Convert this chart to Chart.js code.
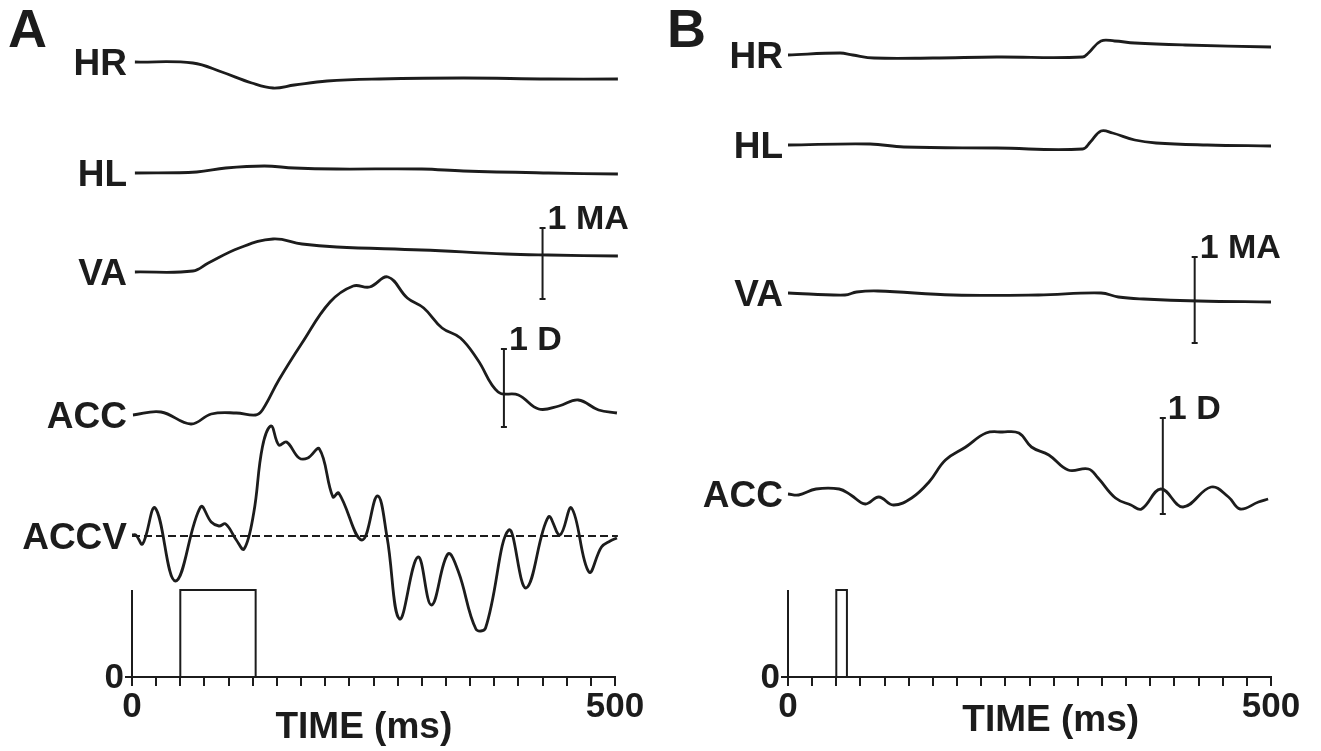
<!DOCTYPE html>
<html>
<head>
<meta charset="utf-8">
<script src="https://cdn.jsdelivr.net/npm/chart.js@4.4.1/dist/chart.umd.min.js"></script>
<style>
    html, body { margin: 0; padding: 0; background: #ffffff; }
    #wrap { position: relative; width: 1321px; height: 751px; background: #ffffff; }
    .panel { position: absolute; top: 0; height: 751px; }
</style>
</head>
<body>
<div id="wrap">
    <div class="panel" style="left:0; width:660px;"><canvas id="panelA"></canvas></div>
    <div class="panel" style="left:660px; width:661px;"><canvas id="panelB"></canvas></div>
</div>
<script>
// ---- panel A (time in ms, deflection in chart units, + = up) ----
const traceNamesA = ['HR', 'HL', 'VA', 'ACC', 'ACCV'];
const baselinesA = [615, 504, 405, 262, 141];

const hrTimeA = [3, 63, 93, 124, 146, 168, 202, 256, 343, 431, 503];
const hrValA  = [0, -1, -10, -21, -26, -23, -19, -17, -16, -17, -17];

const hlTimeA = [3, 67, 97, 137, 168, 212, 300, 343, 431, 503];
const hlValA  = [0, 1, 5, 7, 5, 4, 4, 2, 0, -1];

const vaTimeA = [3, 63, 79, 111, 146, 176, 212, 300, 387, 431, 503];
const vaValA  = [0, 1, 9, 24, 33, 28, 25, 22, 18, 17, 16];

const accTimeA = [1, 30, 61, 82, 108, 128, 135, 152, 176, 205, 229, 246, 265, 285, 302, 321, 340, 358, 379, 400, 421, 442, 462, 483, 502];
const accValA  = [0, 3, -9, 1, 2, 0, 5, 35, 72, 113, 129, 128, 138, 117, 107, 87, 77, 55, 23, 20, 6, 9, 15, 5, 2];

const accvTimeA = [0, 4, 11, 24, 45, 71, 82, 90, 97, 108, 116, 126, 135, 144, 152, 160, 173, 182, 194, 208, 214, 238, 254, 264, 277, 296, 310, 327, 338, 356, 366, 390, 408, 431, 443, 455, 473, 486, 495, 502];
const accvValA  = [1, 1, -8, 28, -45, 29, 14, 10, 12, -4, -13, 23, 89, 110, 91, 94, 78, 78, 87, 39, 43, -4, 40, -1, -83, -21, -69, -18, -36, -93, -92, 6, -52, 19, 1, 28, -36, -11, -5, -2];

const stimTimeA = [50, 50, 128, 128];
const stimValA  = [0, 87, 87, 0];

// scale bars: [label, time, from, to]
const barsA = [['1 MA', 425, 378, 449], ['1 D', 385, 250, 328]];

// ---- panel B ----
const traceNamesB = ['HR', 'HL', 'VA', 'ACC'];
const baselinesB = [622, 532, 384, 183];

const hrTimeB = [0, 54, 67, 89, 150, 216, 305, 311, 324, 338, 359, 411, 500];
const hrValB  = [0, 2, 0, -3, -3, -2, -2, 2, 14, 14, 12, 10, 8];

const hlTimeB = [0, 85, 120, 216, 305, 313, 324, 336, 359, 381, 434, 500];
const hlValB  = [0, 1, -2, -3, -4, 3, 14, 12, 5, 2, 0, -1];

const vaTimeB = [0, 59, 71, 93, 171, 259, 324, 342, 368, 425, 500];
const vaValB  = [0, -2, 1, 2, -2, -2, 0, -4, -6, -8, -9];

const accTimeB = [0, 11, 29, 53, 65, 80, 94, 109, 128, 146, 163, 184, 205, 222, 239, 252, 270, 290, 311, 321, 339, 355, 366, 386, 409, 438, 456, 468, 487, 497];
const accValB  = [0, -1, 5, 5, -1, -10, -3, -11, -4, 12, 34, 47, 61, 62, 61, 47, 39, 24, 25, 16, -4, -11, -15, 5, -13, 7, -3, -15, -8, -5];

const stimTimeB = [50, 50, 61, 61];
const stimValB  = [0, 87, 87, 0];

const barsB = [['1 MA', 421, 334, 420], ['1 D', 388, 163, 259]];

const INK = '#1c1c1c';
const FONT = '"Liberation Sans", Arial, sans-serif';

function toPoints(times, vals, base) {
    return times.map((t, i) => ({ x: t, y: base + vals[i] }));
}

function traceDataset(times, vals, base) {
    return {
        data: toPoints(times, vals, base),
        borderColor: INK,
        borderWidth: 2.8,
        tension: 0.4,
        pointRadius: 0,
        clip: 12
    };
}

// labels, scale bars, the short stimulus axis and the panel letter
const panelMarks = {
    id: 'panelMarks',
    afterDatasetsDraw(chart, args, opts) {
        const ctx = chart.ctx;
        const xs = chart.scales.x;
        const ys = chart.scales.y;
        const x0 = xs.getPixelForValue(0);
        ctx.save();
        ctx.fillStyle = INK;
        ctx.strokeStyle = INK;

        ctx.font = 'bold 54px ' + FONT;
        ctx.textAlign = 'left';
        ctx.textBaseline = 'alphabetic';
        ctx.fillText(opts.letter, opts.letterX, 47);

        ctx.font = 'bold 37px ' + FONT;
        ctx.textAlign = 'right';
        opts.names.forEach((name, i) => {
            ctx.fillText(name, x0 - 5, ys.getPixelForValue(opts.bases[i]) + 13);
        });

        ctx.lineWidth = 2;
        ctx.font = 'bold 34px ' + FONT;
        ctx.textAlign = 'left';
        opts.bars.forEach(b => {
            const bx = xs.getPixelForValue(b[1]);
            const y1 = ys.getPixelForValue(b[2]);
            const y2 = ys.getPixelForValue(b[3]);
            ctx.beginPath();
            ctx.moveTo(bx, y1); ctx.lineTo(bx, y2);
            ctx.moveTo(bx - 3, y1); ctx.lineTo(bx + 3, y1);
            ctx.moveTo(bx - 3, y2); ctx.lineTo(bx + 3, y2);
            ctx.stroke();
            ctx.fillText(b[0], bx + 5, y2 + 1);
        });

        // stimulus axis
        const yZero = ys.getPixelForValue(0);
        ctx.beginPath();
        ctx.moveTo(x0, yZero);
        ctx.lineTo(x0, ys.getPixelForValue(opts.stimTop));
        ctx.moveTo(x0 - 7, yZero);
        ctx.lineTo(x0, yZero);
        ctx.stroke();
        ctx.font = 'bold 35px ' + FONT;
        ctx.textAlign = 'right';
        ctx.fillText('0', x0 - 8, yZero + 11);

        ctx.font = 'bold 37px ' + FONT;
        ctx.textAlign = 'center';
        ctx.fillText('TIME (ms)', xs.getPixelForValue(opts.titleAt), opts.titleY);
        ctx.restore();
    }
};

function createPanel(canvasId, cfg) {
    const datasets = cfg.traces.map(tr => traceDataset(tr[0], tr[1], tr[2]));
    if (cfg.zeroLine !== undefined) {
        datasets.push({
            data: [{ x: 0, y: cfg.zeroLine }, { x: 503, y: cfg.zeroLine }],
            borderColor: INK,
            borderWidth: 1.8,
            borderDash: [8, 4],
            pointRadius: 0,
            clip: 12
        });
    }
    datasets.push({
        data: toPoints(cfg.stim[0], cfg.stim[1], 0),
        borderColor: INK,
        borderWidth: 2,
        tension: 0,
        pointRadius: 0
    });

    const ctx = document.getElementById(canvasId).getContext('2d');
    new Chart(ctx, {
        type: 'line',
        data: { datasets: datasets },
        options: {
            responsive: true,
            maintainAspectRatio: false,
            animation: false,
            events: [],
            layout: { padding: { left: cfg.left, right: cfg.right, top: 27, bottom: 0 } },
            plugins: {
                legend: { display: false },
                tooltip: { enabled: false },
                panelMarks: cfg.marks
            },
            scales: {
                x: {
                    type: 'linear',
                    min: 0,
                    max: 500,
                    afterFit: function(scale) { scale.height = 74; },
                    ticks: {
                        stepSize: 25,
                        maxTicksLimit: 30,
                        autoSkip: false,
                        maxRotation: 0,
                        padding: 0,
                        color: INK,
                        font: { family: FONT, size: 35, weight: 'bold' },
                        callback: function(value) {
                            return (value === 0 || value === 500) ? String(value) : '';
                        }
                    },
                    grid: {
                        drawOnChartArea: false,
                        drawTicks: true,
                        tickLength: 9,
                        color: INK,
                        lineWidth: 2
                    },
                    border: { display: true, color: INK, width: 2 }
                },
                y: { display: false, min: 0, max: 650 }
            }
        },
        plugins: [panelMarks]
    });
}

createPanel('panelA', {
    left: 132, right: 45,
    traces: [
        [hrTimeA, hrValA, baselinesA[0]],
        [hlTimeA, hlValA, baselinesA[1]],
        [vaTimeA, vaValA, baselinesA[2]],
        [accTimeA, accValA, baselinesA[3]],
        [accvTimeA, accvValA, baselinesA[4]]
    ],
    zeroLine: baselinesA[4],
    stim: [stimTimeA, stimValA],
    marks: { letter: 'A', letterX: 8, names: traceNamesA, bases: baselinesA, bars: barsA, stimTop: 87, titleAt: 240, titleY: 738 }
});

createPanel('panelB', {
    left: 128, right: 50,
    traces: [
        [hrTimeB, hrValB, baselinesB[0]],
        [hlTimeB, hlValB, baselinesB[1]],
        [vaTimeB, vaValB, baselinesB[2]],
        [accTimeB, accValB, baselinesB[3]]
    ],
    stim: [stimTimeB, stimValB],
    marks: { letter: 'B', letterX: 7, names: traceNamesB, bases: baselinesB, bars: barsB, stimTop: 87, titleAt: 272, titleY: 731 }
});
</script>
</body>
</html>
